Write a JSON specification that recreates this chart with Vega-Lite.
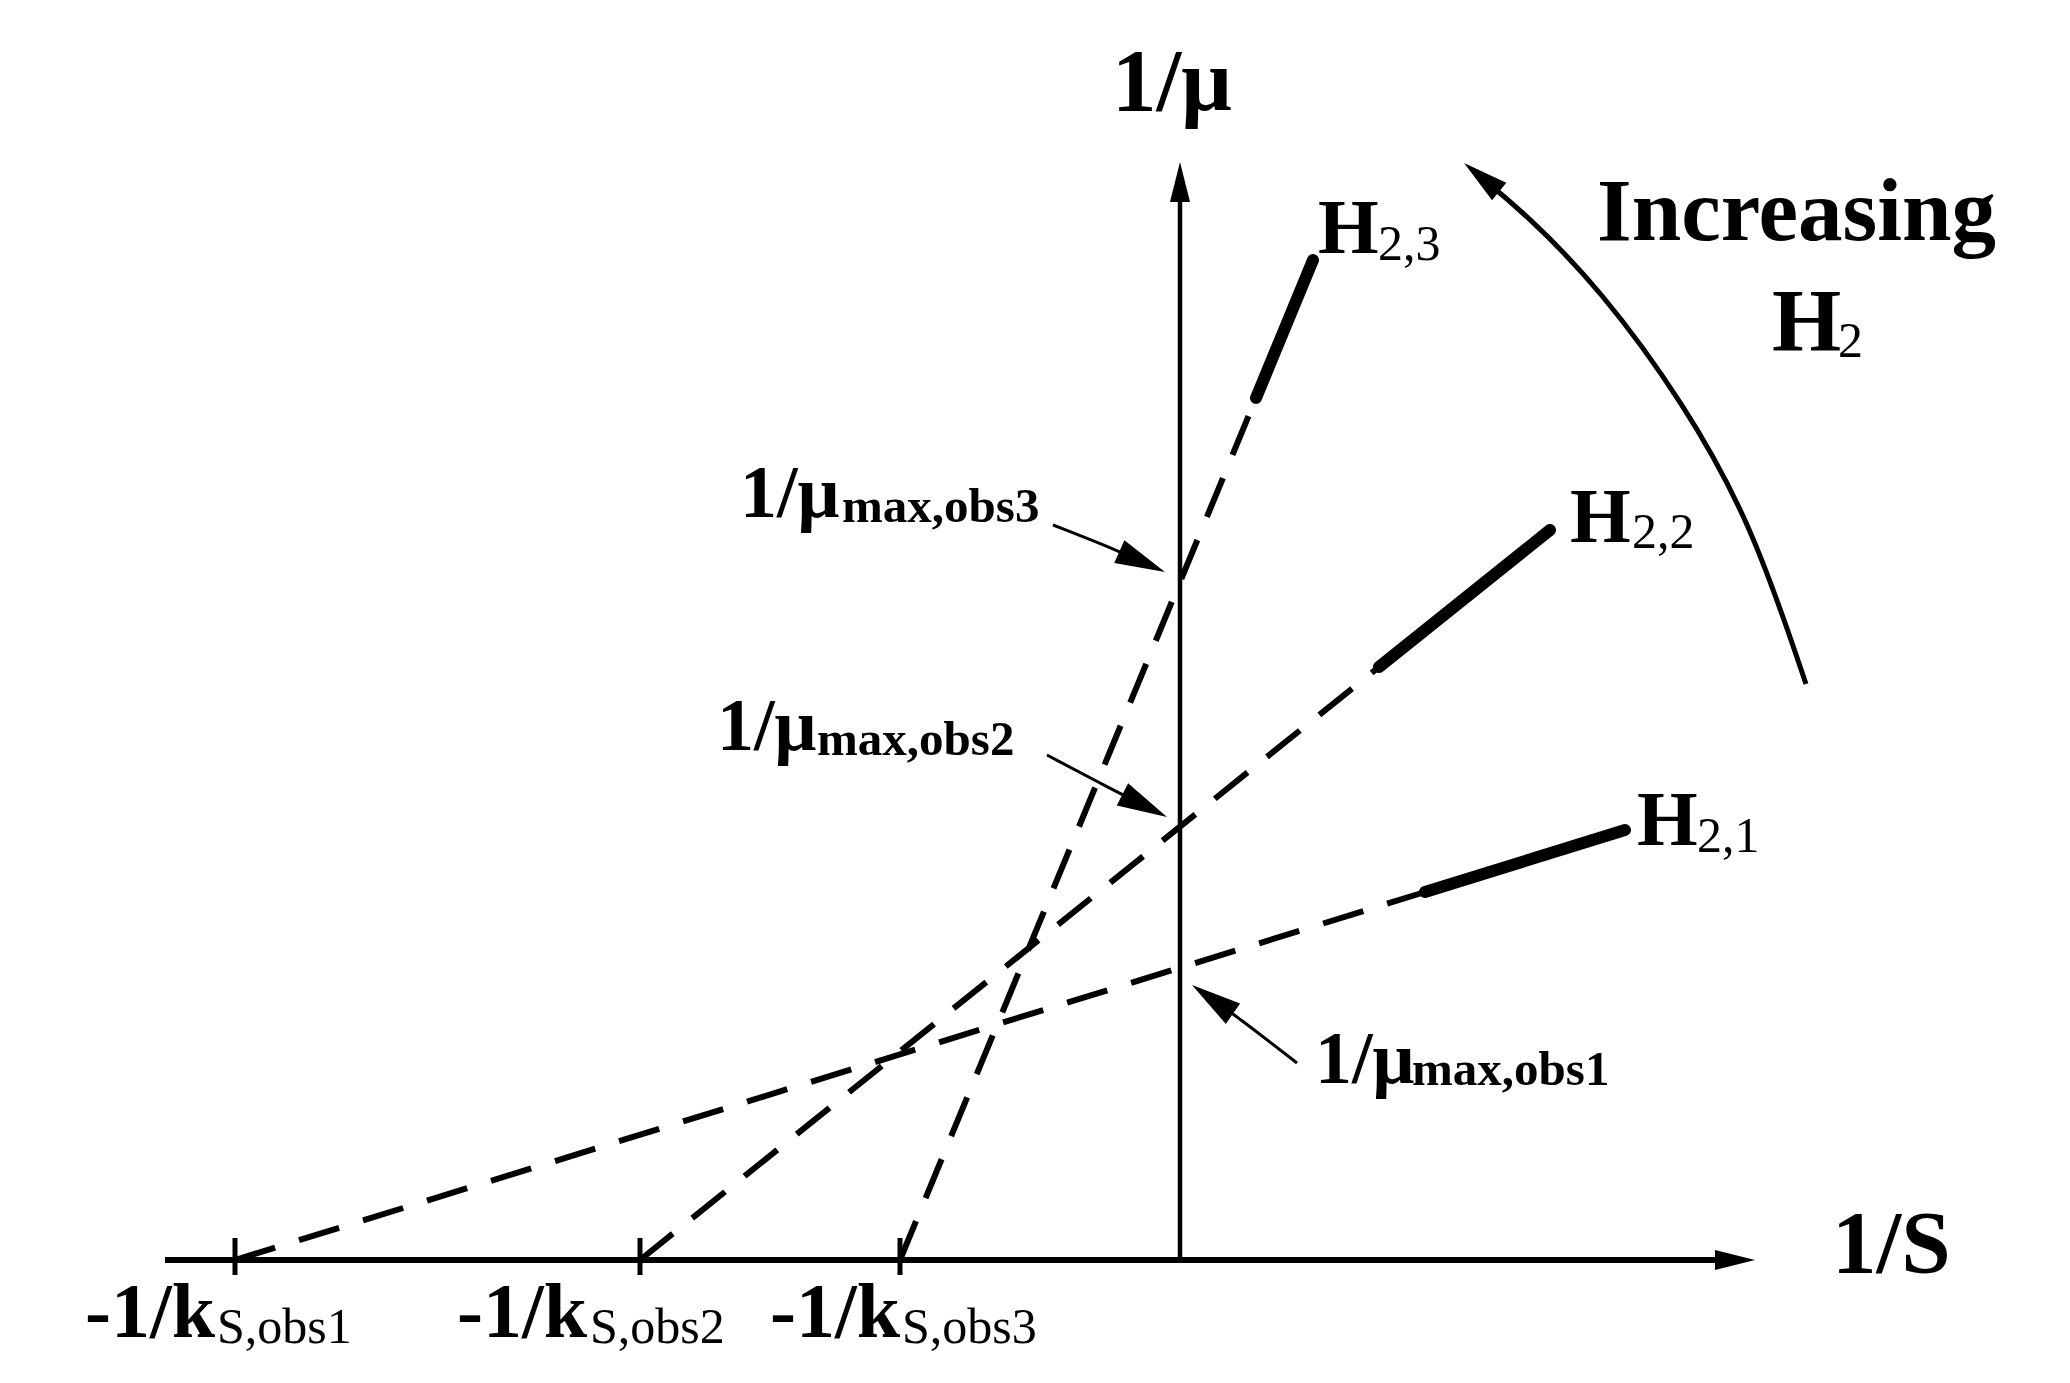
{
  "$schema": "https://vega.github.io/schema/vega-lite/v6.json",
  "width": 2070,
  "height": 1383,
  "autosize": {"type": "fit", "contains": "padding"},
  "padding": 0,
  "background": "white",
  "config": {"view": {"stroke": null}},
  "datasets": {
    "axes": [
      {"axis": "x", "x": -10.15, "y": 0, "x2": 5.6, "y2": 0},
      {"axis": "y", "x": 0, "y": 0, "x2": 0, "y2": 10.8}
    ],
    "ticks": [
      {"x": -9.45, "y": -0.15, "y2": 0.22},
      {"x": -5.40, "y": -0.15, "y2": 0.22},
      {"x": -2.80, "y": -0.15, "y2": 0.22}
    ],
    "lines": [
      {"series": "H2,1", "part": "dash", "i": 0, "x": -9.45, "y": 0},
      {"series": "H2,1", "part": "dash", "i": 1, "x": 2.45, "y": 3.68},
      {"series": "H2,1", "part": "solid", "i": 0, "x": 2.45, "y": 3.68},
      {"series": "H2,1", "part": "solid", "i": 1, "x": 4.45, "y": 4.30},
      {"series": "H2,2", "part": "dash", "i": 0, "x": -5.40, "y": 0},
      {"series": "H2,2", "part": "dash", "i": 1, "x": 1.99, "y": 5.93},
      {"series": "H2,2", "part": "solid", "i": 0, "x": 1.99, "y": 5.93},
      {"series": "H2,2", "part": "solid", "i": 1, "x": 3.70, "y": 7.30},
      {"series": "H2,3", "part": "dash", "i": 0, "x": -2.80, "y": 0},
      {"series": "H2,3", "part": "dash", "i": 1, "x": 0.76, "y": 8.62},
      {"series": "H2,3", "part": "solid", "i": 0, "x": 0.76, "y": 8.62},
      {"series": "H2,3", "part": "solid", "i": 1, "x": 1.33, "y": 10.00}
    ],
    "curves": [
      {"arrow": "big", "i": 0, "x": 6.26, "y": 5.76},
      {"arrow": "big", "i": 1, "x": 5.71, "y": 7.38},
      {"arrow": "big", "i": 2, "x": 5.03, "y": 8.58},
      {"arrow": "big", "i": 3, "x": 4.21, "y": 9.70},
      {"arrow": "big", "i": 4, "x": 3.46, "y": 10.46},
      {"arrow": "big", "i": 5, "x": 2.98, "y": 10.85},
      {"arrow": "obs3", "i": 0, "x": -1.27, "y": 7.35},
      {"arrow": "obs3", "i": 1, "x": -0.63, "y": 7.10},
      {"arrow": "obs3", "i": 2, "x": -0.25, "y": 6.92},
      {"arrow": "obs2", "i": 0, "x": -1.33, "y": 5.05},
      {"arrow": "obs2", "i": 1, "x": -0.67, "y": 4.70},
      {"arrow": "obs2", "i": 2, "x": -0.23, "y": 4.48},
      {"arrow": "obs1", "i": 0, "x": 1.17, "y": 1.97},
      {"arrow": "obs1", "i": 1, "x": 0.59, "y": 2.42},
      {"arrow": "obs1", "i": 2, "x": 0.21, "y": 2.69}
    ],
    "heads": [
      {"kind": "axis", "x": 0, "y": 10.98, "heading": 0},
      {"kind": "axis", "x": 5.75, "y": 0, "heading": 90},
      {"kind": "curve", "x": 2.84, "y": 10.97, "heading": 309},
      {"kind": "pointer", "x": -0.15, "y": 6.88, "heading": 114},
      {"kind": "pointer", "x": -0.13, "y": 4.43, "heading": 117},
      {"kind": "pointer", "x": 0.12, "y": 2.75, "heading": 305}
    ],
    "labels": [
      {"role": "title", "text": "1/μ", "x": -0.68, "y": 11.50},
      {"role": "title", "text": "1/S", "x": 6.52, "y": -0.12},
      {"role": "title", "text": "Increasing", "x": 4.17, "y": 10.20},
      {"role": "title", "text": "H", "x": 5.92, "y": 9.10},
      {"role": "series", "text": "H", "x": 1.38, "y": 10.07},
      {"role": "series", "text": "H", "x": 3.90, "y": 7.18},
      {"role": "series", "text": "H", "x": 4.57, "y": 4.15},
      {"role": "subplain", "text": "2", "x": 6.58, "y": 9.03},
      {"role": "subplain", "text": "2,3", "x": 1.98, "y": 10.00},
      {"role": "subplain", "text": "2,2", "x": 4.52, "y": 7.12},
      {"role": "subplain", "text": "2,1", "x": 5.17, "y": 4.08},
      {"role": "mu", "text": "1/μ", "x": -4.40, "y": 7.43},
      {"role": "mu", "text": "1/μ", "x": -4.63, "y": 5.10},
      {"role": "mu", "text": "1/μ", "x": 1.35, "y": 1.77},
      {"role": "subbold", "text": "max,obs3", "x": -3.38, "y": 7.38},
      {"role": "subbold", "text": "max,obs2", "x": -3.63, "y": 5.05},
      {"role": "subbold", "text": "max,obs1", "x": 2.32, "y": 1.75},
      {"role": "root", "text": "-1/k", "x": -10.95, "y": -0.77},
      {"role": "root", "text": "-1/k", "x": -7.23, "y": -0.77},
      {"role": "root", "text": "-1/k", "x": -4.10, "y": -0.77},
      {"role": "subplain", "text": "S,obs1", "x": -9.63, "y": -0.83},
      {"role": "subplain", "text": "S,obs2", "x": -5.90, "y": -0.83},
      {"role": "subplain", "text": "S,obs3", "x": -2.78, "y": -0.83}
    ]
  },
  "encoding": {
    "x": {"field": "x", "type": "quantitative", "scale": {"domain": [-11.8, 8.9], "nice": false, "zero": false}, "axis": null},
    "y": {"field": "y", "type": "quantitative", "scale": {"domain": [-1.23, 12.6], "nice": false, "zero": false}, "axis": null}
  },
  "layer": [
    {
      "data": {"name": "axes"},
      "transform": [{"filter": "datum.axis == 'x'"}],
      "mark": {"type": "rule", "color": "black", "strokeWidth": 6},
      "encoding": {"x2": {"field": "x2"}, "y2": {"field": "y2"}}
    },
    {
      "data": {"name": "axes"},
      "transform": [{"filter": "datum.axis == 'y'"}],
      "mark": {"type": "rule", "color": "black", "strokeWidth": 4.5},
      "encoding": {"x2": {"field": "x2"}, "y2": {"field": "y2"}}
    },
    {
      "data": {"name": "ticks"},
      "mark": {"type": "rule", "color": "black", "strokeWidth": 5},
      "encoding": {"y2": {"field": "y2"}}
    },
    {
      "data": {"name": "lines"},
      "transform": [{"filter": "datum.part == 'dash'"}],
      "mark": {"type": "line", "color": "black", "strokeWidth": 6, "strokeDash": [42, 25], "strokeCap": "butt"},
      "encoding": {"detail": {"field": "series"}, "order": {"field": "i"}}
    },
    {
      "data": {"name": "lines"},
      "transform": [{"filter": "datum.part == 'solid'"}],
      "mark": {"type": "line", "color": "black", "strokeWidth": 12, "strokeCap": "round"},
      "encoding": {"detail": {"field": "series"}, "order": {"field": "i"}}
    },
    {
      "data": {"name": "curves"},
      "transform": [{"filter": "datum.arrow == 'big'"}],
      "mark": {"type": "line", "color": "black", "strokeWidth": 5, "interpolate": "basis"},
      "encoding": {"detail": {"field": "arrow"}, "order": {"field": "i"}}
    },
    {
      "data": {"name": "curves"},
      "transform": [{"filter": "datum.arrow != 'big'"}],
      "mark": {"type": "line", "color": "black", "strokeWidth": 3, "interpolate": "basis"},
      "encoding": {"detail": {"field": "arrow"}, "order": {"field": "i"}}
    },
    {
      "data": {"name": "heads"},
      "mark": {"type": "point", "shape": "M0,0L0.5,2L-0.5,2Z", "filled": true, "color": "black", "opacity": 1, "strokeWidth": 0},
      "encoding": {
        "angle": {"field": "heading", "type": "quantitative", "scale": null},
        "size": {"field": "kind", "type": "nominal", "scale": {"domain": ["axis", "curve", "pointer"], "range": [1600, 2500, 900]}, "legend": null}
      }
    },
    {
      "data": {"name": "labels"},
      "transform": [{"filter": "datum.role == 'title'"}],
      "mark": {"type": "text", "font": "Liberation Serif", "fontWeight": "bold", "fontSize": 89, "align": "left", "baseline": "alphabetic", "color": "black"},
      "encoding": {"text": {"field": "text"}}
    },
    {
      "data": {"name": "labels"},
      "transform": [{"filter": "datum.role == 'series'"}],
      "mark": {"type": "text", "font": "Liberation Serif", "fontWeight": "bold", "fontSize": 78, "align": "left", "baseline": "alphabetic", "color": "black"},
      "encoding": {"text": {"field": "text"}}
    },
    {
      "data": {"name": "labels"},
      "transform": [{"filter": "datum.role == 'subplain'"}],
      "mark": {"type": "text", "font": "Liberation Serif", "fontWeight": "normal", "fontSize": 50, "align": "left", "baseline": "alphabetic", "color": "black"},
      "encoding": {"text": {"field": "text"}}
    },
    {
      "data": {"name": "labels"},
      "transform": [{"filter": "datum.role == 'mu'"}],
      "mark": {"type": "text", "font": "Liberation Serif", "fontWeight": "bold", "fontSize": 74, "align": "left", "baseline": "alphabetic", "color": "black"},
      "encoding": {"text": {"field": "text"}}
    },
    {
      "data": {"name": "labels"},
      "transform": [{"filter": "datum.role == 'subbold'"}],
      "mark": {"type": "text", "font": "Liberation Serif", "fontWeight": "bold", "fontSize": 49, "align": "left", "baseline": "alphabetic", "color": "black"},
      "encoding": {"text": {"field": "text"}}
    },
    {
      "data": {"name": "labels"},
      "transform": [{"filter": "datum.role == 'root'"}],
      "mark": {"type": "text", "font": "Liberation Serif", "fontWeight": "bold", "fontSize": 78, "align": "left", "baseline": "alphabetic", "color": "black"},
      "encoding": {"text": {"field": "text"}}
    }
  ]
}
